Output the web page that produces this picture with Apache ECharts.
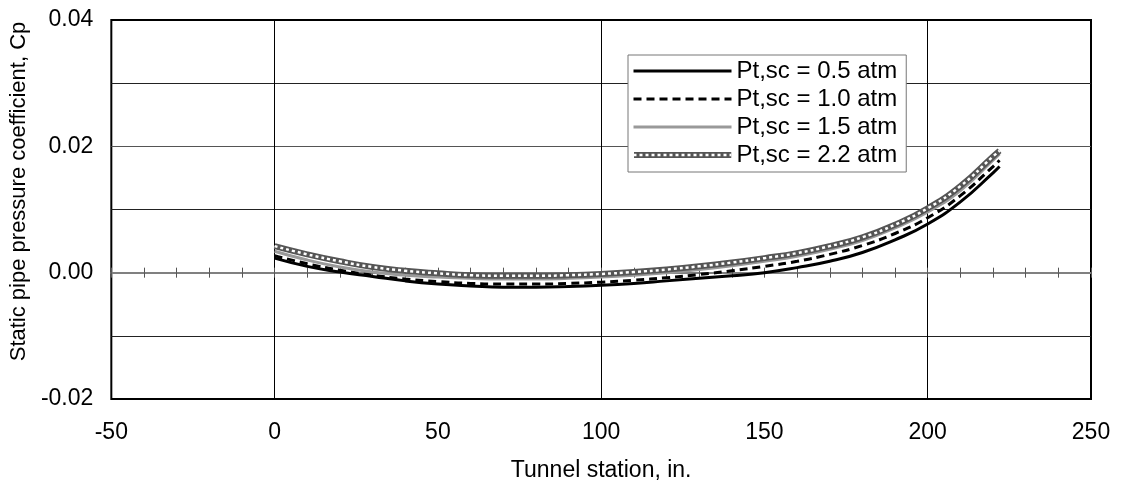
<!DOCTYPE html>
<html lang="en">
<head>
    <meta charset="UTF-8">
    <script src="https://cdn.jsdelivr.net/npm/echarts@6/dist/echarts.min.js" type="text/javascript"></script>
    <style>
        html,body{margin:0;padding:0;background:#fff}
        #chart{width:1121px;height:489px}
    </style>
    <title>Static pipe pressure coefficient</title>
</head>
<body>
    <div id="chart"></div>
    <script type="text/javascript">
        // tunnel station, in.
        var stations = [0, 10, 20, 30, 40, 50, 60, 70, 80, 90, 100, 110, 120, 130, 140, 150, 160, 170, 180, 190, 200, 210, 220, 222];
        var names = ['Pt,sc = 0.5 atm', 'Pt,sc = 1.0 atm', 'Pt,sc = 1.5 atm', 'Pt,sc = 2.2 atm'];
        // Cp
        var cp05 = [0.0023, 0.0010, 0.0001, -0.0006, -0.0013, -0.0018, -0.0021, -0.0023, -0.0023, -0.0022, -0.0020, -0.0017, -0.0013, -0.0009, -0.0005, 0.0000, 0.0008, 0.0018, 0.0032, 0.0052, 0.0077, 0.0112, 0.0158, 0.0168];
        var cp10 = [0.0027, 0.0014, 0.0004, -0.0004, -0.0010, -0.0014, -0.0017, -0.0018, -0.0018, -0.0017, -0.0015, -0.0012, -0.0008, -0.0003, 0.0003, 0.0010, 0.0018, 0.0029, 0.0043, 0.0062, 0.0087, 0.0122, 0.0168, 0.0178];
        var cp15 = [0.0034, 0.0020, 0.0009, 0.0001, -0.0004, -0.0007, -0.0009, -0.0010, -0.0010, -0.0009, -0.0007, -0.0004, 0.0000, 0.0005, 0.0011, 0.0018, 0.0026, 0.0037, 0.0051, 0.0071, 0.0096, 0.0130, 0.0178, 0.0188];
        var cp22 = [0.0042, 0.0029, 0.0018, 0.0009, 0.0003, -0.0001, -0.0004, -0.0005, -0.0005, -0.0004, -0.0002, 0.0001, 0.0005, 0.0010, 0.0016, 0.0023, 0.0031, 0.0042, 0.0056, 0.0076, 0.0102, 0.0137, 0.0184, 0.0193];

        function pairs(ys) {
            return stations.map(function (x, i) { return [x, ys[i]]; });
        }

        var font = 'Liberation Sans, Arial, sans-serif';

        // checkered legend swatch for the 2.2 atm line
        var checkSvg = '<svg xmlns="http://www.w3.org/2000/svg" width="98" height="14" viewBox="0 0 98 14">' +
            '<line x1="0" y1="7" x2="98" y2="7" stroke="#555" stroke-width="6"/>' +
            '<line x1="0" y1="7" x2="98" y2="7" stroke="#fff" stroke-width="2.5" stroke-dasharray="3 3"/></svg>';

        var ec = echarts.init(document.getElementById('chart'));
        var option = {
            animation: false,
            grid: {left: 110, right: 30, top: 20, bottom: 90, show: true, borderColor: '#000', borderWidth: 2},
            legend: {
                orient: 'vertical',
                left: 628, top: 55,
                padding: [4, 9, 5, 4],
                itemWidth: 98, itemHeight: 14, itemGap: 4,
                backgroundColor: '#fff',
                borderColor: '#777', borderWidth: 1,
                itemStyle: {color: 'transparent', borderColor: 'transparent', borderWidth: 0},
                lineStyle: {width: 3},
                textStyle: {fontFamily: font, fontSize: 24, color: '#000'},
                data: [
                    {name: names[0]},
                    {name: names[1]},
                    {name: names[2]},
                    {name: names[3], icon: 'image://data:image/svg+xml;charset=utf-8,' + encodeURIComponent(checkSvg)}
                ]
            },
            xAxis: [
                {
                    type: 'value', min: -50, max: 250, interval: 50,
                    name: 'Tunnel station, in.', nameLocation: 'middle', nameGap: 60,
                    nameTextStyle: {fontFamily: font, fontSize: 23, color: '#000'},
                    axisLine: {show: false, onZero: false},
                    axisTick: {show: false},
                    axisLabel: {fontFamily: font, fontSize: 23, color: '#000', margin: 22},
                    splitLine: {show: true, lineStyle: {color: ['transparent', '#000'], width: 1}}
                },
                {
                    type: 'value', position: 'bottom', min: -50, max: 250, interval: 10,
                    axisLine: {show: true, onZero: true, onZeroAxisIndex: 0, lineStyle: {color: '#808080', width: 2}},
                    axisTick: {show: true, length: 5, lineStyle: {color: '#555', width: 1}},
                    axisLabel: {show: false},
                    splitLine: {show: false}
                },
                {
                    type: 'value', position: 'top', min: -50, max: 250, interval: 10,
                    axisLine: {show: false, onZero: true, onZeroAxisIndex: 0},
                    axisTick: {show: true, length: 5, lineStyle: {color: '#555', width: 1}},
                    axisLabel: {show: false},
                    splitLine: {show: false}
                }
            ],
            yAxis: {
                type: 'value', min: -0.02, max: 0.04, interval: 0.01,
                name: 'Static pipe pressure coefficient, Cp', nameLocation: 'middle', nameGap: 79,
                nameTextStyle: {fontFamily: font, fontSize: 22, color: '#000', padding: [0, 0, 0, 36]},
                axisLine: {show: false, onZero: false},
                axisTick: {show: false},
                axisLabel: {
                    fontFamily: font, fontSize: 23, color: '#000', margin: 18,
                    formatter: function (v) {
                        var k = Math.round(v * 100);
                        return k % 2 === 0 ? (k / 100).toFixed(2) : '';
                    }
                },
                splitLine: {show: true, lineStyle: {color: ['#000', '#222', '#808080', '#222', '#555', '#222', '#000'], width: 1}}
            },
            series: [
                {
                    name: names[0], type: 'line', data: pairs(cp05), showSymbol: false, symbol: 'none', smooth: true,
                    lineStyle: {color: '#000', width: 3}, itemStyle: {color: '#000'}, z: 5
                },
                {
                    name: names[1], type: 'line', data: pairs(cp10), showSymbol: false, symbol: 'none', smooth: true,
                    lineStyle: {color: '#000', width: 3, type: [8, 5]}, itemStyle: {color: '#000'}, z: 5
                },
                {
                    name: names[2], type: 'line', data: pairs(cp15), showSymbol: false, symbol: 'none', smooth: true,
                    lineStyle: {color: '#999', width: 3}, itemStyle: {color: '#999'}, z: 5
                },
                {
                    name: names[3], type: 'line', data: pairs(cp22), showSymbol: false, symbol: 'none', smooth: true,
                    lineStyle: {color: '#555', width: 6}, itemStyle: {color: '#555'}, z: 6
                },
                {
                    name: 'checker', type: 'line', data: pairs(cp22), showSymbol: false, symbol: 'none', smooth: true,
                    silent: true, lineStyle: {color: '#fff', width: 2.5, type: [3, 3]}, z: 7
                }
            ]
        };
        ec.setOption(option);
    </script>
</body>
</html>
